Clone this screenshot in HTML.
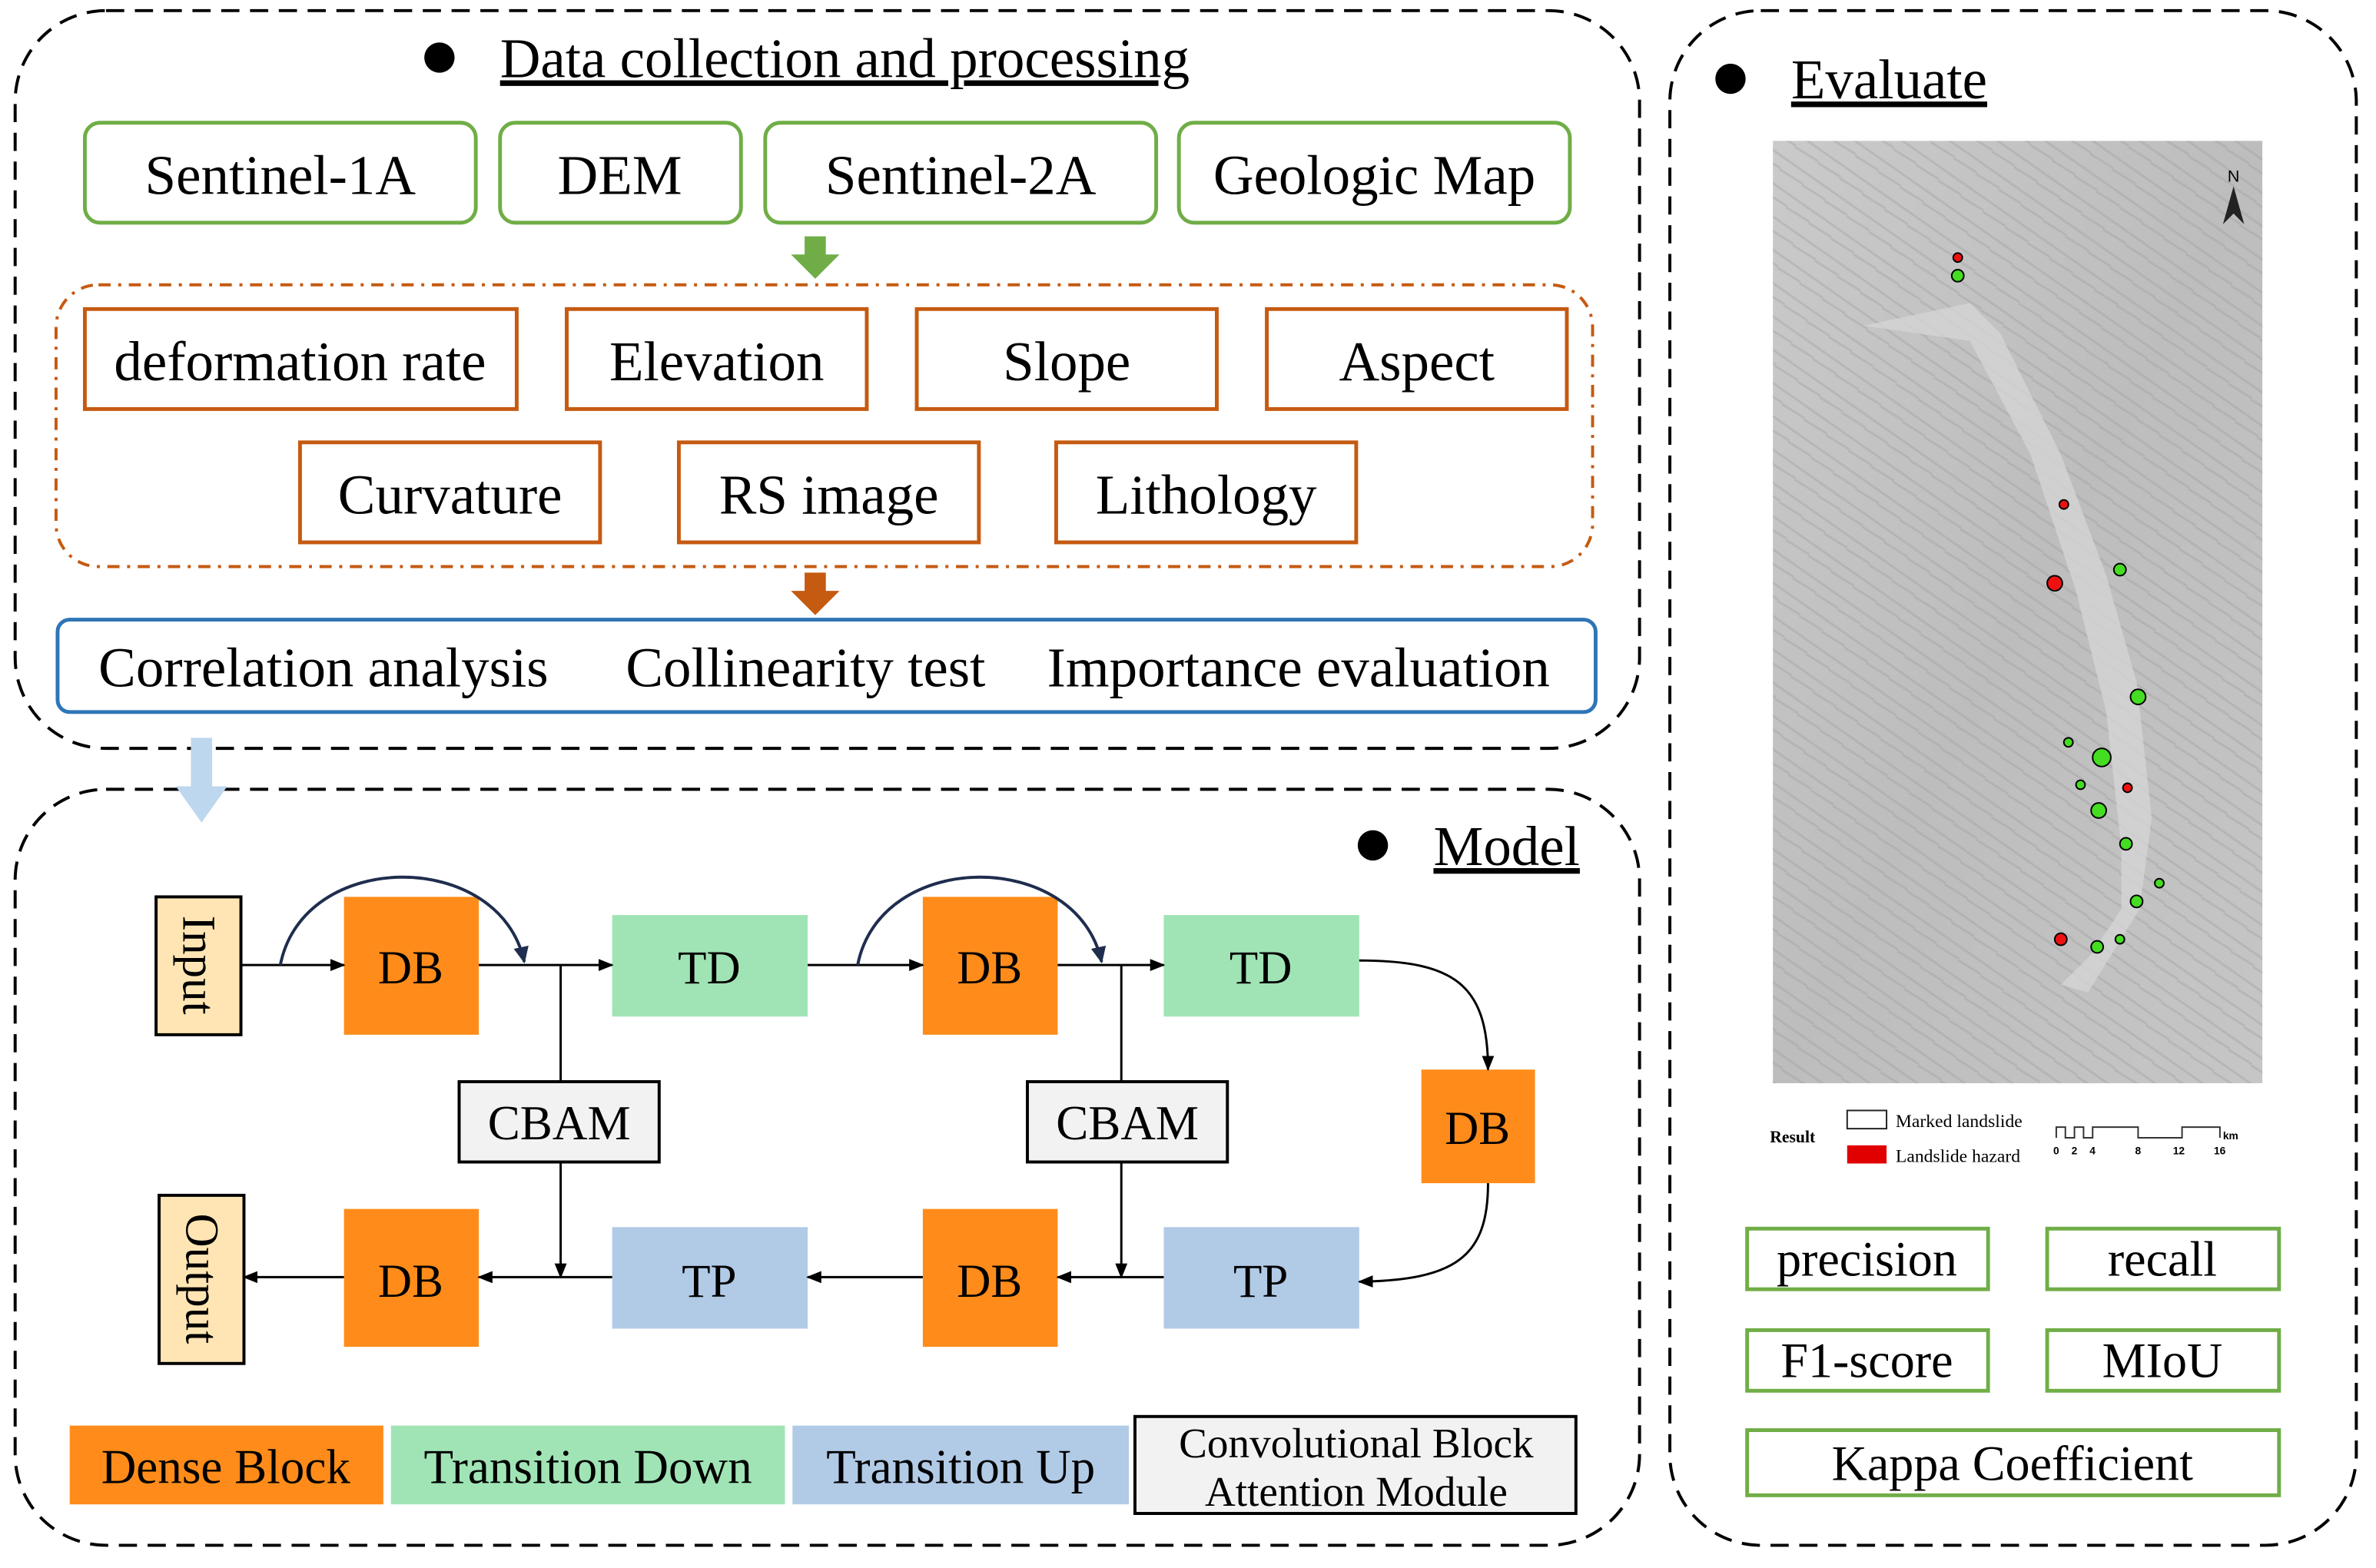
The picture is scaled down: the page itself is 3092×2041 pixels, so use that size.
<!DOCTYPE html>
<html><head><meta charset="utf-8"><style>html,body{margin:0;padding:0;background:#fff}svg{display:block}</style></head><body>
<svg width="3092" height="2041" viewBox="0 0 1568 1035" preserveAspectRatio="none" xmlns="http://www.w3.org/2000/svg" font-family="Liberation Serif, serif">
<defs>
<marker id="ar" markerWidth="10" markerHeight="10" refX="9" refY="5" orient="auto" markerUnits="userSpaceOnUse"><path d="M0,1 L10,5 L0,9 Z" fill="#000"/></marker>
<marker id="arn" markerWidth="12" markerHeight="12" refX="10" refY="6" orient="auto" markerUnits="userSpaceOnUse"><path d="M0,1 L11,6 L0,11 Z" fill="#1f2d4e"/></marker>
<linearGradient id="mg" x1="0" y1="0" x2="1" y2="1"><stop offset="0" stop-color="#cacaca"/><stop offset="0.5" stop-color="#bdbdbd"/><stop offset="1" stop-color="#c6c6c6"/></linearGradient>
<pattern id="tex" width="18" height="18" patternUnits="userSpaceOnUse" patternTransform="rotate(35)"><path d="M0,4 L18,4 M0,12 L18,11" stroke="#9a9a9a" stroke-width="1.5" opacity="0.35"/></pattern>
</defs>
<rect width="1568" height="1035" fill="#fff"/>
<rect x="10" y="7" width="1072" height="487" rx="60" fill="none" stroke="#000" stroke-width="2" stroke-dasharray="12,7"/>
<rect x="10" y="521" width="1072" height="499" rx="60" fill="none" stroke="#000" stroke-width="2" stroke-dasharray="12,7"/>
<rect x="1102" y="7" width="453" height="1013" rx="60" fill="none" stroke="#000" stroke-width="2" stroke-dasharray="12,7"/>

<circle cx="290" cy="38" r="10" fill="#000"/>
<text x="330" y="51" font-size="37" text-decoration="underline">Data collection and processing</text>
<g fill="none" stroke="#70ad47" stroke-width="2.5">
<rect x="56" y="81" width="258" height="66" rx="10"/><rect x="330" y="81" width="159" height="66" rx="10"/><rect x="505" y="81" width="258" height="66" rx="10"/><rect x="778" y="81" width="258" height="66" rx="10"/>
</g>
<g font-size="37" text-anchor="middle">
<text x="185" y="128">Sentinel-1A</text><text x="409" y="128">DEM</text><text x="634" y="128">Sentinel-2A</text><text x="907" y="128">Geologic Map</text>
</g>
<path d="M531,156 h14 v12 h9 l-16,16 l-16,-16 h9 z" fill="#70ad47"/>
<rect x="37" y="188" width="1014" height="186" rx="28" fill="none" stroke="#c55a11" stroke-width="2" stroke-dasharray="8,5,2,5"/>
<g fill="none" stroke="#c55a11" stroke-width="2.5">
<rect x="56" y="204" width="285" height="66"/><rect x="374" y="204" width="198" height="66"/><rect x="605" y="204" width="198" height="66"/><rect x="836" y="204" width="198" height="66"/>
<rect x="198" y="292" width="198" height="66"/><rect x="448" y="292" width="198" height="66"/><rect x="697" y="292" width="198" height="66"/>
</g>
<g font-size="37" text-anchor="middle">
<text x="198" y="251">deformation rate</text><text x="473" y="251">Elevation</text><text x="704" y="251">Slope</text><text x="935" y="251">Aspect</text>
<text x="297" y="339">Curvature</text><text x="547" y="339">RS image</text><text x="796" y="339">Lithology</text>
</g>
<path d="M531,378 h14 v12 h9 l-16,16 l-16,-16 h9 z" fill="#c55a11"/>
<rect x="38" y="409" width="1015" height="61" rx="8" fill="none" stroke="#2e75b6" stroke-width="2.5"/>
<g font-size="37"><text x="65" y="453">Correlation analysis</text><text x="413" y="453">Collinearity test</text><text x="691" y="453">Importance evaluation</text></g>
<path d="M126,487 h14 v32 h10 l-17,24 l-17,-24 h10 z" fill="#bdd7ee"/>

<circle cx="906" cy="558" r="10" fill="#000"/>
<text x="946" y="571" font-size="37" text-decoration="underline">Model</text>
<rect x="103" y="592" width="56" height="91" fill="#ffe5b4" stroke="#000" stroke-width="2"/>
<text transform="translate(131,637) rotate(90)" font-size="31" text-anchor="middle" dy="10">Input</text>
<rect x="105" y="789" width="56" height="111" fill="#ffe5b4" stroke="#000" stroke-width="2"/>
<text transform="translate(133,844) rotate(90)" font-size="31" text-anchor="middle" dy="10">Output</text>
<g fill="#ff8c1a"><rect x="227" y="592" width="89" height="91"/><rect x="609" y="592" width="89" height="91"/><rect x="938" y="706" width="75" height="75"/><rect x="227" y="798" width="89" height="91"/><rect x="609" y="798" width="89" height="91"/></g>
<g fill="#a0e4b5"><rect x="404" y="604" width="129" height="67"/><rect x="768" y="604" width="129" height="67"/></g>
<g fill="#b1cae6"><rect x="404" y="810" width="129" height="67"/><rect x="768" y="810" width="129" height="67"/></g>
<g fill="#f2f2f2" stroke="#000" stroke-width="2"><rect x="303" y="714" width="132" height="53"/><rect x="678" y="714" width="132" height="53"/></g>
<g font-size="31" text-anchor="middle">
<text x="271" y="649">DB</text><text x="653" y="649">DB</text><text x="975" y="755">DB</text><text x="271" y="856">DB</text><text x="653" y="856">DB</text>
<text x="468" y="649">TD</text><text x="832" y="649">TD</text><text x="468" y="856">TP</text><text x="832" y="856">TP</text>
</g>
<g font-size="32" text-anchor="middle"><text x="369" y="752">CBAM</text><text x="744" y="752">CBAM</text></g>
<g stroke="#000" stroke-width="1.5" fill="none">
<path d="M159,637 H227" marker-end="url(#ar)"/>
<path d="M316,637 H404" marker-end="url(#ar)"/>
<path d="M533,637 H609" marker-end="url(#ar)"/>
<path d="M698,637 H768" marker-end="url(#ar)"/>
<path d="M370,637 V714"/><path d="M740,637 V714"/>
<path d="M370,767 V843" marker-end="url(#ar)"/><path d="M740,767 V843" marker-end="url(#ar)"/>
<path d="M897,634 C960,634 982,650 982,706" marker-end="url(#ar)"/>
<path d="M982,781 C982,830 960,845 897,846" marker-end="url(#ar)"/>
<path d="M768,843 H698" marker-end="url(#ar)"/>
<path d="M609,843 H533" marker-end="url(#ar)"/>
<path d="M404,843 H316" marker-end="url(#ar)"/>
<path d="M227,843 H161" marker-end="url(#ar)"/>
</g>
<g stroke="#1f2d4e" stroke-width="2" fill="none">
<path d="M185,637 C200,560 330,560 346,635" marker-end="url(#arn)"/>
<path d="M566,637 C581,560 711,560 727,635" marker-end="url(#arn)"/>
</g>
<rect x="46" y="941" width="207" height="52" fill="#ff8c1a"/>
<rect x="258" y="941" width="260" height="52" fill="#a0e4b5"/>
<rect x="523" y="941" width="222" height="52" fill="#b1cae6"/>
<rect x="749" y="935" width="291" height="64" fill="#f2f2f2" stroke="#000" stroke-width="2"/>
<g font-size="32" text-anchor="middle"><text x="149" y="979">Dense Block</text><text x="388" y="979">Transition Down</text><text x="634" y="979">Transition Up</text></g>
<g font-size="28" text-anchor="middle"><text x="895" y="962">Convolutional Block</text><text x="895" y="994">Attention Module</text></g>

<circle cx="1142" cy="52" r="10" fill="#000"/>
<text x="1182" y="65" font-size="37" text-decoration="underline">Evaluate</text>
<rect x="1170" y="93" width="323" height="622" fill="url(#mg)"/>
<rect x="1170" y="93" width="323" height="622" fill="url(#tex)"/>
<path d="M1230,215 L1300,225 L1340,300 L1370,390 L1390,470 L1400,560 L1400,600 L1380,630 L1360,650 L1378,655 L1412,600 L1420,540 L1410,450 L1390,380 L1360,300 L1320,220 L1300,200 Z" fill="#d4d4d4" opacity="0.8"/>
<g fill="#44dd22" stroke="#000" stroke-width="1"><circle cx="1292" cy="182" r="4"/><circle cx="1399" cy="376" r="4"/><circle cx="1411" cy="460" r="5"/><circle cx="1387" cy="500" r="6"/><circle cx="1365" cy="490" r="3"/><circle cx="1385" cy="535" r="5"/><circle cx="1403" cy="557" r="4"/><circle cx="1410" cy="595" r="4"/><circle cx="1384" cy="625" r="4"/><circle cx="1399" cy="620" r="3"/><circle cx="1425" cy="583" r="3"/><circle cx="1373" cy="518" r="3"/></g>
<g fill="#ee1111" stroke="#000" stroke-width="1"><circle cx="1356" cy="385" r="5"/><circle cx="1362" cy="333" r="3"/><circle cx="1360" cy="620" r="4"/><circle cx="1404" cy="520" r="3"/><circle cx="1292" cy="170" r="3"/></g>
<text x="1474" y="120" font-size="11" font-family="Liberation Sans, sans-serif" text-anchor="middle">N</text>
<path d="M1474,123 L1467,148 L1474,141 L1481,148 Z" fill="#222"/>
<text x="1168" y="754" font-size="11" font-weight="bold">Result</text>
<rect x="1219" y="733" width="26" height="12" fill="#fff" stroke="#222" stroke-width="1"/>
<rect x="1219" y="756" width="26" height="12" fill="#e00000"/>
<text x="1251" y="744" font-size="12">Marked landslide</text>
<text x="1251" y="767" font-size="12">Landslide hazard</text>
<path d="M1357,751 V744 H1363 V751 H1369 V744 H1375 V751 H1381 V744 H1411 V751 H1440 V744 H1465 V751" fill="none" stroke="#333" stroke-width="1"/>
<g font-size="7" font-family="Liberation Sans, sans-serif" font-weight="bold"><text x="1355" y="762">0</text><text x="1367" y="762">2</text><text x="1379" y="762">4</text><text x="1409" y="762">8</text><text x="1434" y="762">12</text><text x="1461" y="762">16</text><text x="1467" y="752">km</text></g>
<g fill="none" stroke="#70ad47" stroke-width="2.5">
<rect x="1153" y="811" width="159" height="40"/><rect x="1351" y="811" width="153" height="40"/>
<rect x="1153" y="878" width="159" height="40"/><rect x="1351" y="878" width="153" height="40"/>
<rect x="1153" y="944" width="351" height="43"/>
</g>
<g font-size="32.5" text-anchor="middle"><text x="1232" y="842">precision</text><text x="1427" y="842">recall</text><text x="1232" y="909">F1-score</text><text x="1427" y="909">MIoU</text><text x="1328" y="977">Kappa Coefficient</text></g>
</svg>
</body></html>
